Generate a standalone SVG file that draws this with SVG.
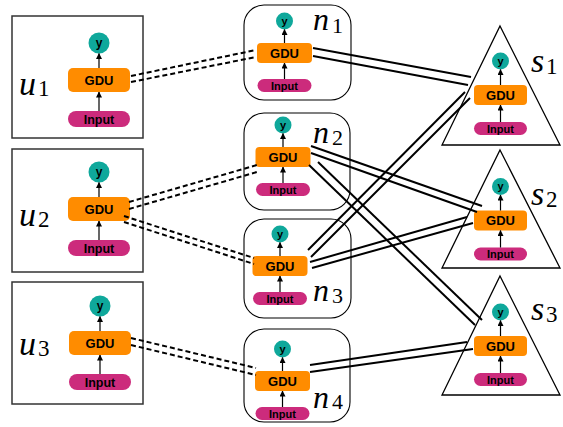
<svg xmlns="http://www.w3.org/2000/svg" width="563" height="427" viewBox="0 0 563 427">
<defs>
<marker id="ah" markerUnits="userSpaceOnUse" markerWidth="6" markerHeight="6" refX="5.5" refY="3" orient="auto">
<path d="M0,0 L6,3 L0,6 z" fill="#000"/>
</marker>
<style>
.ubox{fill:#fff;stroke:#333;stroke-width:1.5}
.nbox{fill:#fff;stroke:#000;stroke-width:1.1}
.tri{fill:#fff;stroke:#000;stroke-width:1.3}
.gdu{fill:#ff8c00}
.inp{fill:#cc2b7c}
.yc{fill:#0fa89b}
.t{font-family:"Liberation Sans",Arial,sans-serif;font-weight:bold;text-anchor:middle;fill:#000}
.ar{stroke:#000;stroke-width:1.2;fill:none;marker-end:url(#ah)}
.lab{fill:#000}
.sub{fill:#000}
.dl{stroke:#000;stroke-width:2;fill:none;stroke-dasharray:5 3}
.sl{stroke:#000;stroke-width:2;fill:none}
</style>
</defs>
<rect width="563" height="427" fill="#fff"/>

<g id="u1">
<rect class="ubox" x="12" y="16" width="131" height="122"/>
<g transform="translate(99,68)">
<circle class="yc" cx="0" cy="-25" r="10.5"/><text class="t" x="0" y="-21" font-size="12">y</text>
<rect class="gdu" x="-31" y="0" width="62" height="24" rx="5"/><text class="t" x="0" y="16.5" font-size="13">GDU</text>
<rect class="inp" x="-31" y="43" width="62" height="16" rx="8"/><text class="t" x="0" y="55.5" font-size="12.5">Input</text>
<line class="ar" x1="0" y1="43" x2="0" y2="24"/><line class="ar" x1="0" y1="0" x2="0" y2="-14.5"/>
</g>
<text class="lab" x="19" y="95" font-size="34" font-family="Liberation Serif, Times New Roman, serif" font-style="italic">u</text><text class="sub" x="38" y="96" font-size="23" font-family="Liberation Serif, Times New Roman, serif">1</text>
</g>

<g id="u2">
<rect class="ubox" x="12" y="149" width="131" height="123"/>
<g transform="translate(99,197)">
<circle class="yc" cx="0" cy="-25" r="10.5"/><text class="t" x="0" y="-21" font-size="12">y</text>
<rect class="gdu" x="-31" y="0" width="62" height="24" rx="5"/><text class="t" x="0" y="16.5" font-size="13">GDU</text>
<rect class="inp" x="-31" y="43" width="62" height="16" rx="8"/><text class="t" x="0" y="55.5" font-size="12.5">Input</text>
<line class="ar" x1="0" y1="43" x2="0" y2="24"/><line class="ar" x1="0" y1="0" x2="0" y2="-14.5"/>
</g>
<text class="lab" x="19" y="226" font-size="34" font-family="Liberation Serif, Times New Roman, serif" font-style="italic">u</text><text class="sub" x="38" y="227" font-size="23" font-family="Liberation Serif, Times New Roman, serif">2</text>
</g>

<g id="u3">
<rect class="ubox" x="12" y="282" width="131" height="122"/>
<g transform="translate(100,331)">
<circle class="yc" cx="0" cy="-25" r="10.5"/><text class="t" x="0" y="-21" font-size="12">y</text>
<rect class="gdu" x="-31" y="0" width="62" height="24" rx="5"/><text class="t" x="0" y="16.5" font-size="13">GDU</text>
<rect class="inp" x="-31" y="43" width="62" height="16" rx="8"/><text class="t" x="0" y="55.5" font-size="12.5">Input</text>
<line class="ar" x1="0" y1="43" x2="0" y2="24"/><line class="ar" x1="0" y1="0" x2="0" y2="-14.5"/>
</g>
<text class="lab" x="19" y="355" font-size="34" font-family="Liberation Serif, Times New Roman, serif" font-style="italic">u</text><text class="sub" x="38" y="356" font-size="23" font-family="Liberation Serif, Times New Roman, serif">3</text>
</g>

<g id="n1">
<rect class="nbox" x="244" y="5" width="107" height="95" rx="20"/>
<g transform="translate(284.5,43)">
<circle class="yc" cx="0" cy="-22" r="8.5"/><text class="t" x="0" y="-18.5" font-size="11">y</text>
<rect class="gdu" x="-27.5" y="0" width="55" height="20" rx="4"/><text class="t" x="0" y="14.5" font-size="13">GDU</text>
<rect class="inp" x="-27" y="36" width="54" height="13" rx="6.5"/><text class="t" x="0" y="46.5" font-size="11">Input</text>
<line class="ar" x1="0" y1="36" x2="0" y2="20"/><line class="ar" x1="0" y1="0" x2="0" y2="-13.5"/>
</g>
<text class="lab" x="313" y="30" font-size="32" font-family="Liberation Serif, Times New Roman, serif" font-style="italic">n</text><text class="sub" x="332" y="33" font-size="22" font-family="Liberation Serif, Times New Roman, serif">1</text>
</g>

<g id="n2">
<rect class="nbox" x="244" y="113" width="106" height="97" rx="20"/>
<g transform="translate(283,147)">
<circle class="yc" cx="0" cy="-22" r="8.5"/><text class="t" x="0" y="-18.5" font-size="11">y</text>
<rect class="gdu" x="-27.5" y="0" width="55" height="20" rx="4"/><text class="t" x="0" y="14.5" font-size="13">GDU</text>
<rect class="inp" x="-27" y="36" width="54" height="13" rx="6.5"/><text class="t" x="0" y="46.5" font-size="11">Input</text>
<line class="ar" x1="0" y1="36" x2="0" y2="20"/><line class="ar" x1="0" y1="0" x2="0" y2="-13.5"/>
</g>
<text class="lab" x="313" y="143" font-size="32" font-family="Liberation Serif, Times New Roman, serif" font-style="italic">n</text><text class="sub" x="332" y="145" font-size="22" font-family="Liberation Serif, Times New Roman, serif">2</text>
</g>

<g id="n3">
<rect class="nbox" x="244" y="219" width="107" height="99" rx="20"/>
<g transform="translate(280,256)">
<circle class="yc" cx="0" cy="-22" r="8.5"/><text class="t" x="0" y="-18.5" font-size="11">y</text>
<rect class="gdu" x="-27.5" y="0" width="55" height="20" rx="4"/><text class="t" x="0" y="14.5" font-size="13">GDU</text>
<rect class="inp" x="-27" y="36" width="54" height="13" rx="6.5"/><text class="t" x="0" y="46.5" font-size="11">Input</text>
<line class="ar" x1="0" y1="36" x2="0" y2="20"/><line class="ar" x1="0" y1="0" x2="0" y2="-13.5"/>
</g>
<text class="lab" x="313" y="301" font-size="32" font-family="Liberation Serif, Times New Roman, serif" font-style="italic">n</text><text class="sub" x="332" y="303" font-size="22" font-family="Liberation Serif, Times New Roman, serif">3</text>
</g>

<g id="n4">
<rect class="nbox" x="244" y="329" width="106" height="93" rx="20"/>
<g transform="translate(282.5,371)">
<circle class="yc" cx="0" cy="-22" r="8.5"/><text class="t" x="0" y="-18.5" font-size="11">y</text>
<rect class="gdu" x="-27.5" y="0" width="55" height="20" rx="4"/><text class="t" x="0" y="14.5" font-size="13">GDU</text>
<rect class="inp" x="-27" y="36" width="54" height="13" rx="6.5"/><text class="t" x="0" y="46.5" font-size="11">Input</text>
<line class="ar" x1="0" y1="36" x2="0" y2="20"/><line class="ar" x1="0" y1="0" x2="0" y2="-13.5"/>
</g>
<text class="lab" x="313" y="408" font-size="32" font-family="Liberation Serif, Times New Roman, serif" font-style="italic">n</text><text class="sub" x="332" y="409" font-size="22" font-family="Liberation Serif, Times New Roman, serif">4</text>
</g>

<g id="s1">
<polygon class="tri" points="500,26 560,145 442,145"/>
<g transform="translate(500.5,85)">
<circle class="yc" cx="0" cy="-24" r="8.5"/><text class="t" x="0" y="-20.5" font-size="11">y</text>
<rect class="gdu" x="-26.5" y="0" width="53" height="20" rx="4"/><text class="t" x="0" y="14.5" font-size="13">GDU</text>
<rect class="inp" x="-26.5" y="37" width="53" height="13" rx="6.5"/><text class="t" x="0" y="47.5" font-size="11">Input</text>
<line class="ar" x1="0" y1="37" x2="0" y2="20"/><line class="ar" x1="0" y1="0" x2="0" y2="-15.5"/>
</g>
<text class="lab" x="531" y="72" font-size="34" font-family="Liberation Serif, Times New Roman, serif" font-style="italic">s</text><text class="sub" x="546" y="74" font-size="23" font-family="Liberation Serif, Times New Roman, serif">1</text>
</g>

<g id="s2">
<polygon class="tri" points="500,150 560,268 442,268"/>
<g transform="translate(500.5,210.5)">
<circle class="yc" cx="0" cy="-24" r="8.5"/><text class="t" x="0" y="-20.5" font-size="11">y</text>
<rect class="gdu" x="-26.5" y="0" width="53" height="20" rx="4"/><text class="t" x="0" y="14.5" font-size="13">GDU</text>
<rect class="inp" x="-26.5" y="37" width="53" height="13" rx="6.5"/><text class="t" x="0" y="47.5" font-size="11">Input</text>
<line class="ar" x1="0" y1="37" x2="0" y2="20"/><line class="ar" x1="0" y1="0" x2="0" y2="-15.5"/>
</g>
<text class="lab" x="531" y="205" font-size="34" font-family="Liberation Serif, Times New Roman, serif" font-style="italic">s</text><text class="sub" x="546" y="207" font-size="23" font-family="Liberation Serif, Times New Roman, serif">2</text>
</g>

<g id="s3">
<polygon class="tri" points="500,276 560,395 442,395"/>
<g transform="translate(500.5,336)">
<circle class="yc" cx="0" cy="-24" r="8.5"/><text class="t" x="0" y="-20.5" font-size="11">y</text>
<rect class="gdu" x="-26.5" y="0" width="53" height="20" rx="4"/><text class="t" x="0" y="14.5" font-size="13">GDU</text>
<rect class="inp" x="-26.5" y="37" width="53" height="13" rx="6.5"/><text class="t" x="0" y="47.5" font-size="11">Input</text>
<line class="ar" x1="0" y1="37" x2="0" y2="20"/><line class="ar" x1="0" y1="0" x2="0" y2="-15.5"/>
</g>
<text class="lab" x="531" y="320" font-size="34" font-family="Liberation Serif, Times New Roman, serif" font-style="italic">s</text><text class="sub" x="546" y="322" font-size="23" font-family="Liberation Serif, Times New Roman, serif">3</text>
</g>

<g id="connectors">
<line class="dl" x1="131" y1="76" x2="256" y2="50"/><line class="dl" x1="131" y1="82" x2="256" y2="57"/>
<line class="dl" x1="129" y1="202" x2="257" y2="165"/><line class="dl" x1="129" y1="209" x2="257" y2="172"/>
<line class="dl" x1="124" y1="216" x2="254" y2="258"/><line class="dl" x1="124" y1="222" x2="254" y2="264"/>
<line class="dl" x1="131" y1="338" x2="256" y2="368"/><line class="dl" x1="131" y1="345" x2="256" y2="375"/>
<line class="sl" x1="313" y1="48" x2="471" y2="77"/><line class="sl" x1="313" y1="56" x2="468" y2="85"/>
<line class="sl" x1="311" y1="146" x2="482" y2="206"/><line class="sl" x1="311" y1="153" x2="477" y2="212"/>
<line class="sl" x1="318" y1="162" x2="482" y2="320"/><line class="sl" x1="309" y1="165" x2="475" y2="325"/>
<line class="sl" x1="308" y1="250" x2="465" y2="92"/><line class="sl" x1="311" y1="257" x2="470" y2="98"/>
<line class="sl" x1="310" y1="262" x2="467" y2="217"/><line class="sl" x1="312" y1="268" x2="473" y2="223"/>
<line class="sl" x1="310" y1="365" x2="467" y2="342"/><line class="sl" x1="310" y1="372" x2="473" y2="349"/>
</g>
</svg>
